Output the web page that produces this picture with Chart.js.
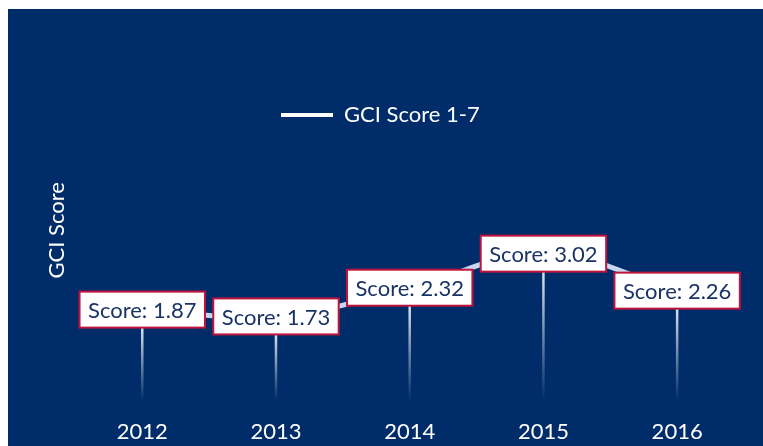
<!DOCTYPE html>
<html lang="en">
<head>
    <meta charset="UTF-8">
    <title>GCI Score</title>
    <script src="https://cdn.jsdelivr.net/npm/chart.js"></script>
    <style>
        body {
            margin: 0;
            background: #ffffff;
        }
        .chart-box {
            position: absolute;
            left: 8px;
            top: 9px;
            width: 755px;
            height: 437px;
            background: #002d69;
        }
        .chart-box canvas {
            display: block;
        }
    </style>
</head>
<body>
    <div class="chart-box">
        <canvas id="myChart" width="755" height="437"></canvas>
    </div>

    <script>
        var years = ['2012', '2013', '2014', '2015', '2016'];
        var scores = [1.87, 1.73, 2.32, 3.02, 2.26];
        var seriesName = 'GCI Score 1-7';
        var axisTitle = 'GCI Score';

        var fontName = 'Lato, "Open Sans", sans-serif';

        // puts the legend inside the plot, above the line
        var legendShift = {
            id: 'legendShift',
            afterLayout: function(chart) {
                var lg = chart.legend;
                var w = lg.right - lg.left;
                var h = lg.bottom - lg.top;
                lg.left = 263;
                lg.right = 263 + w;
                lg.top = 85;
                lg.bottom = 85 + h;
            }
        };

        // drop lines and the "Score:" boxes
        var scoreBoxes = {
            id: 'scoreBoxes',
            afterDatasetsDraw: function(chart) {
                var ctx = chart.ctx;
                var meta = chart.getDatasetMeta(0);
                var y0 = chart.scales.y.getPixelForValue(0);
                ctx.save();
                ctx.font = '22px ' + fontName;
                meta.data.forEach(function(pt, i) {
                    var top = pt.y + 18;
                    var grad = ctx.createLinearGradient(0, top, 0, y0);
                    grad.addColorStop(0, 'rgba(230,236,245,0.95)');
                    grad.addColorStop(1, 'rgba(230,236,245,0)');
                    ctx.strokeStyle = grad;
                    ctx.lineWidth = 2.5;
                    ctx.beginPath();
                    ctx.moveTo(pt.x, top);
                    ctx.lineTo(pt.x, y0);
                    ctx.stroke();
                });
                meta.data.forEach(function(pt, i) {
                    var txt = 'Score: ' + scores[i].toFixed(2);
                    var w = ctx.measureText(txt).width + 17;
                    var h = 36;
                    ctx.fillStyle = '#ffffff';
                    ctx.fillRect(pt.x - w / 2, pt.y - h / 2, w, h);
                    ctx.strokeStyle = '#c0143c';
                    ctx.lineWidth = 2;
                    ctx.strokeRect(pt.x - w / 2, pt.y - h / 2, w, h);
                    ctx.fillStyle = '#1a3366';
                    ctx.textAlign = 'center';
                    ctx.textBaseline = 'middle';
                    ctx.fillText(txt, pt.x, pt.y + 1);
                });
                ctx.restore();
            }
        };

        var ctx = document.getElementById('myChart').getContext('2d');
        var myChart = new Chart(ctx, {
            type: 'line',
            data: {
                labels: years,
                datasets: [{
                    label: seriesName,
                    data: scores,
                    borderColor: '#c8d8f2',
                    borderWidth: 5,
                    tension: 0.4,
                    pointRadius: 0,
                    fill: false
                }]
            },
            options: {
                responsive: false,
                animation: false,
                layout: {
                    padding: { left: 33, right: 19, top: 51, bottom: -17 }
                },
                scales: {
                    x: {
                        offset: true,
                        grid: { display: false, drawTicks: false },
                        border: { display: false },
                        ticks: {
                            color: '#ffffff',
                            font: { family: fontName, size: 22 },
                            padding: 18
                        }
                    },
                    y: {
                        min: 0,
                        max: 7,
                        grid: { display: false, drawTicks: false },
                        border: { display: false },
                        ticks: { display: false },
                        title: {
                            display: true,
                            text: axisTitle,
                            color: '#ffffff',
                            font: { family: fontName, size: 22 },
                            padding: { top: 3, bottom: 5 }
                        }
                    }
                },
                plugins: {
                    tooltip: { enabled: false },
                    legend: {
                        position: 'chartArea',
                        align: 'start',
                        labels: {
                            color: '#ffffff',
                            font: { family: fontName, size: 22 },
                            boxWidth: 52,
                            boxHeight: 4,
                            useBorderRadius: true,
                            borderRadius: 2,
                            padding: 10,
                            generateLabels: function(chart) {
                                return [{
                                    text: seriesName,
                                    fillStyle: '#ffffff',
                                    strokeStyle: '#ffffff',
                                    lineWidth: 0,
                                    fontColor: '#ffffff',
                                    datasetIndex: 0
                                }];
                            }
                        }
                    }
                }
            },
            plugins: [legendShift, scoreBoxes]
        });
    </script>
</body>
</html>
